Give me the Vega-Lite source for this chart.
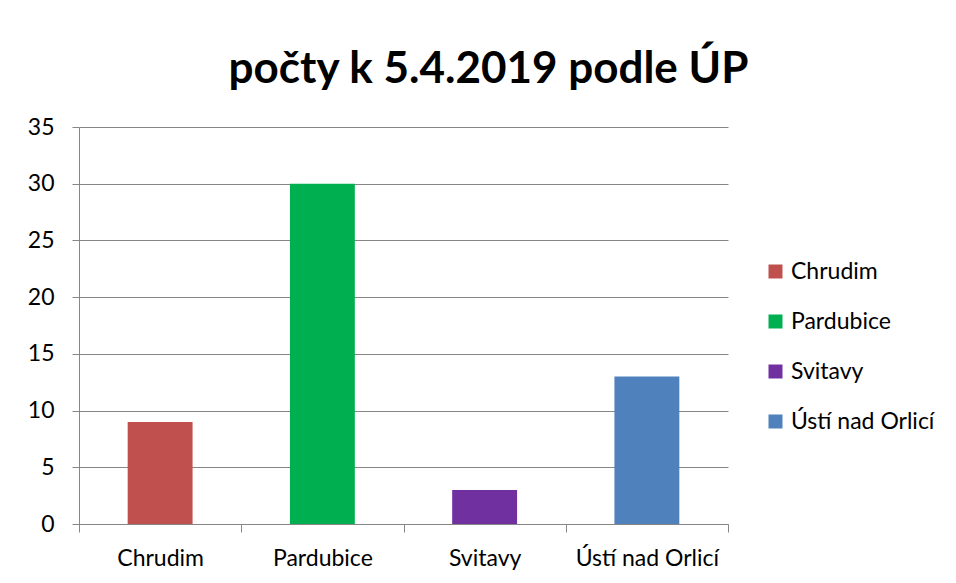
{
  "$schema": "https://vega.github.io/schema/vega-lite/v6.json",
  "width": 649,
  "height": 397,
  "autosize": {"type": "none"},
  "padding": {"left": 79, "top": 127, "right": 228, "bottom": 59},
  "background": "white",
  "title": {
    "text": "počty k 5.4.2019 podle ÚP",
    "font": "Lato",
    "fontSize": 44,
    "fontWeight": "bold",
    "color": "black",
    "anchor": "middle",
    "frame": "group",
    "dx": 85,
    "offset": 24
  },
  "data": {
    "values": [
      {"okres": "Chrudim", "pocet": 9},
      {"okres": "Pardubice", "pocet": 30},
      {"okres": "Svitavy", "pocet": 3},
      {"okres": "Ústí nad Orlicí", "pocet": 13}
    ]
  },
  "mark": {"type": "bar", "width": {"band": 0.4}},
  "encoding": {
    "x": {
      "field": "okres",
      "type": "nominal",
      "sort": null,
      "scale": {"paddingInner": 0, "paddingOuter": 0},
      "axis": {
        "title": null,
        "labelAngle": 0,
        "tickBand": "extent",
        "tickSize": 8,
        "tickColor": "#868686",
        "domainColor": "#868686",
        "labelFont": "Lato",
        "labelFontSize": 23,
        "labelColor": "black",
        "labelPadding": 15,
        "grid": false
      }
    },
    "y": {
      "field": "pocet",
      "type": "quantitative",
      "scale": {"domain": [0, 35], "nice": false},
      "axis": {
        "title": null,
        "values": [0, 5, 10, 15, 20, 25, 30, 35],
        "tickSize": 7,
        "tickColor": "#868686",
        "domainColor": "#868686",
        "grid": true,
        "gridColor": "#868686",
        "gridOpacity": 1,
        "labelFont": "Lato",
        "labelFontSize": 23,
        "labelColor": "black",
        "labelPadding": 18
      }
    },
    "color": {
      "field": "okres",
      "type": "nominal",
      "sort": null,
      "scale": {
        "domain": ["Chrudim", "Pardubice", "Svitavy", "Ústí nad Orlicí"],
        "range": ["#C0504D", "#00B050", "#7030A0", "#4F81BD"]
      },
      "legend": {
        "title": null,
        "orient": "none",
        "legendX": 685,
        "legendY": 133,
        "symbolType": "square",
        "symbolSize": 196,
        "symbolStrokeWidth": 0,
        "labelFont": "Lato",
        "labelFontSize": 23,
        "labelColor": "black",
        "labelOffset": 4,
        "rowPadding": 26
      }
    }
  },
  "config": {"view": {"stroke": null}}
}
